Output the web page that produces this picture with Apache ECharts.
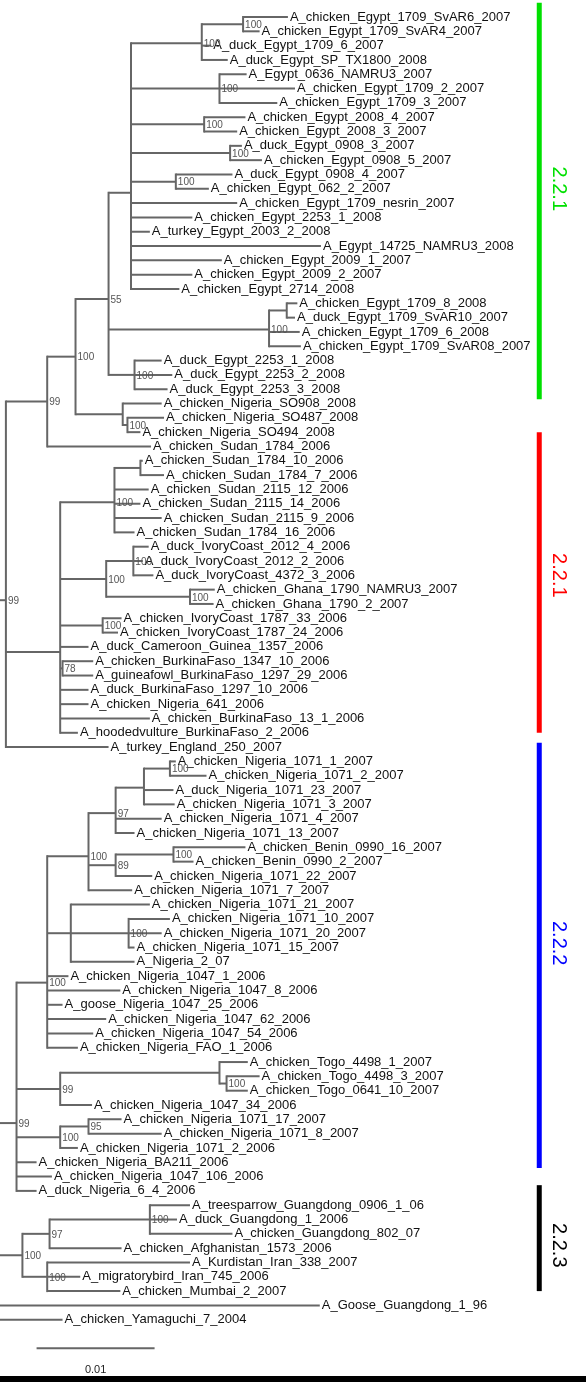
<!DOCTYPE html>
<html><head><meta charset="utf-8">
<script src="https://cdn.jsdelivr.net/npm/echarts@6/dist/echarts.min.js"></script>
<style>
html,body{margin:0;padding:0;background:#fff;overflow:hidden}
#chart{width:586px;height:1382px}
#strip{position:absolute;left:0;top:1376px;width:586px;height:6px;background:#000}
</style>
</head><body><div id="chart"></div><div id="strip"></div>
<script>
// ---------- DATA ----------
const leafNames = [
 'A_chicken_Egypt_1709_SvAR6_2007','A_chicken_Egypt_1709_SvAR4_2007','A_duck_Egypt_1709_6_2007','A_duck_Egypt_SP_TX1800_2008',
 'A_Egypt_0636_NAMRU3_2007','A_chicken_Egypt_1709_2_2007','A_chicken_Egypt_1709_3_2007','A_chicken_Egypt_2008_4_2007',
 'A_chicken_Egypt_2008_3_2007','A_duck_Egypt_0908_3_2007','A_chicken_Egypt_0908_5_2007','A_duck_Egypt_0908_4_2007',
 'A_chicken_Egypt_062_2_2007','A_chicken_Egypt_1709_nesrin_2007','A_chicken_Egypt_2253_1_2008','A_turkey_Egypt_2003_2_2008',
 'A_Egypt_14725_NAMRU3_2008','A_chicken_Egypt_2009_1_2007','A_chicken_Egypt_2009_2_2007','A_chicken_Egypt_2714_2008',
 'A_chicken_Egypt_1709_8_2008','A_duck_Egypt_1709_SvAR10_2007','A_chicken_Egypt_1709_6_2008','A_chicken_Egypt_1709_SvAR08_2007',
 'A_duck_Egypt_2253_1_2008','A_duck_Egypt_2253_2_2008','A_duck_Egypt_2253_3_2008','A_chicken_Nigeria_SO908_2008',
 'A_chicken_Nigeria_SO487_2008','A_chicken_Nigeria_SO494_2008','A_chicken_Sudan_1784_2006','A_chicken_Sudan_1784_10_2006',
 'A_chicken_Sudan_1784_7_2006','A_chicken_Sudan_2115_12_2006','A_chicken_Sudan_2115_14_2006','A_chicken_Sudan_2115_9_2006',
 'A_chicken_Sudan_1784_16_2006','A_duck_IvoryCoast_2012_4_2006','A_duck_IvoryCoast_2012_2_2006','A_duck_IvoryCoast_4372_3_2006',
 'A_chicken_Ghana_1790_NAMRU3_2007','A_chicken_Ghana_1790_2_2007','A_chicken_IvoryCoast_1787_33_2006','A_chicken_IvoryCoast_1787_24_2006',
 'A_duck_Cameroon_Guinea_1357_2006','A_chicken_BurkinaFaso_1347_10_2006','A_guineafowl_BurkinaFaso_1297_29_2006','A_duck_BurkinaFaso_1297_10_2006',
 'A_chicken_Nigeria_641_2006','A_chicken_BurkinaFaso_13_1_2006','A_hoodedvulture_BurkinaFaso_2_2006','A_turkey_England_250_2007',
 'A_chicken_Nigeria_1071_1_2007','A_chicken_Nigeria_1071_2_2007','A_duck_Nigeria_1071_23_2007','A_chicken_Nigeria_1071_3_2007',
 'A_chicken_Nigeria_1071_4_2007','A_chicken_Nigeria_1071_13_2007','A_chicken_Benin_0990_16_2007','A_chicken_Benin_0990_2_2007',
 'A_chicken_Nigeria_1071_22_2007','A_chicken_Nigeria_1071_7_2007','A_chicken_Nigeria_1071_21_2007','A_chicken_Nigeria_1071_10_2007',
 'A_chicken_Nigeria_1071_20_2007','A_chicken_Nigeria_1071_15_2007','A_Nigeria_2_07','A_chicken_Nigeria_1047_1_2006',
 'A_chicken_Nigeria_1047_8_2006','A_goose_Nigeria_1047_25_2006','A_chicken_Nigeria_1047_62_2006','A_chicken_Nigeria_1047_54_2006',
 'A_chicken_Nigeria_FAO_1_2006','A_chicken_Togo_4498_1_2007','A_chicken_Togo_4498_3_2007','A_chicken_Togo_0641_10_2007',
 'A_chicken_Nigeria_1047_34_2006','A_chicken_Nigeria_1071_17_2007','A_chicken_Nigeria_1071_8_2007','A_chicken_Nigeria_1071_2_2006',
 'A_chicken_Nigeria_BA211_2006','A_chicken_Nigeria_1047_106_2006','A_duck_Nigeria_6_4_2006','A_treesparrow_Guangdong_0906_1_06',
 'A_duck_Guangdong_1_2006','A_chicken_Guangdong_802_07','A_chicken_Afghanistan_1573_2006','A_Kurdistan_Iran_338_2007',
 'A_migratorybird_Iran_745_2006','A_chicken_Mumbai_2_2007','A_Goose_Guangdong_1_96','A_chicken_Yamaguchi_7_2004'
];
// tip depth of each leaf (units of 0.001 substitutions/site, measured from the left edge of the drawing)
const leafDepth = [
 24.4, 22.0, 17.9, 19.3, 20.9, 25.0, 23.5, 20.8, 20.1, 20.5,
 22.2, 19.7, 17.7, 20.1, 16.3, 12.7, 27.2, 18.8, 16.3, 15.2,
 25.2, 25.0, 25.4, 25.5, 13.7, 14.6, 14.2, 13.7, 13.9, 11.9,
 12.8, 12.1, 13.9, 12.6, 11.9, 13.7, 11.4, 12.6, 12.1, 13.0,
 18.2, 18.1, 10.3, 10.0, 7.5, 7.9, 7.9, 7.5, 7.5, 12.7,
 6.6, 9.2, 14.9, 17.5, 14.7, 14.8, 13.7, 11.4, 20.8, 16.4,
 12.9, 11.2, 12.7, 14.4, 13.7, 11.4, 11.4, 5.8, 10.2, 5.3,
 9.0, 7.9, 6.6, 21.0, 22.0, 21.0, 7.8, 10.3, 13.7, 6.6,
 3.1, 4.4, 3.1, 16.1, 15.0, 19.7, 10.3, 16.1, 6.8, 10.2,
 27.1, 5.3
];
// internal nodes: [id, depth, bootstrap, children]  (numbers = leaf index, strings = node id)
const treeNodes = [
 ['g1', 20.6, '100', [0, 1]],
 ['g2', 17.1, '100', ['g1', 2, 3]],
 ['g3', 18.6, '100', [4, 5, 6]],
 ['g4', 17.3, '100', [7, 8]],
 ['g5', 19.5, '100', [9, 10]],
 ['g6', 14.9, '100', [11, 12]],
 ['gP', 11.1, '', ['g2', 'g3', 'g4', 'g5', 'g6', 13, 14, 15, 16, 17, 18, 19]],
 ['g7', 24.3, '', [20, 21]],
 ['gN', 22.8, '100', ['g7', 22, 23]],
 ['g8', 11.4, '100', [24, 25, 26]],
 ['gA', 9.2, '55', ['gP', 'gN', 'g8']],
 ['g9', 10.8, '100', [28, 29]],
 ['gC', 10.4, '', [27, 'g9']],
 ['gB', 6.4, '100', ['gA', 'gC']],
 ['gD', 4.0, '99', ['gB', 30]],
 ['gS1', 11.9, '', [31, 32]],
 ['gS', 9.7, '100', ['gS1', 33, 34, 35, 36]],
 ['gG', 11.3, '100', [37, 38, 39]],
 ['gH', 16.1, '100', [40, 41]],
 ['gF', 9.0, '100', ['gG', 'gH']],
 ['gI', 8.7, '100', [42, 43]],
 ['gJ', 5.3, '78', [45, 46]],
 ['gRed', 5.1, '', ['gS', 'gF', 'gI', 44, 'gJ', 47, 48, 49, 50]],
 ['gE', 0.5, '99', ['gD', 'gRed', 51]],
 ['gK1a1', 14.4, '100', [52, 53]],
 ['gK1a', 12.2, '', ['gK1a1', 54, 55]],
 ['gK1', 9.8, '97', ['gK1a', 56, 57]],
 ['gK2a', 14.7, '100', [58, 59]],
 ['gK2', 9.8, '89', ['gK2a', 60]],
 ['gK', 7.5, '100', ['gK1', 'gK2', 61]],
 ['gN1b', 10.9, '100', [63, 64, 65]],
 ['gNb', 6.0, '', [62, 'gN1b', 66]],
 ['gM', 4.0, '100', ['gK', 'gNb', 67, 68, 69, 70, 71, 72]],
 ['gT2', 19.2, '100', [74, 75]],
 ['gT', 18.6, '', [73, 'gT2']],
 ['gL', 5.1, '99', ['gT', 76]],
 ['gQ', 7.5, '95', [77, 78]],
 ['gP2', 5.1, '100', ['gQ', 79]],
 ['gBlue', 1.4, '99', ['gM', 'gL', 'gP2', 80, 81, 82]],
 ['gSp', 12.7, '100', [83, 84, 85]],
 ['gY', 4.2, '97', ['gSp', 86]],
 ['gZ', 4.0, '100', [87, 88, 89]],
 ['gX', 1.9, '100', ['gY', 'gZ']],
 ['gR1', -0.5, '', ['gE', 'gBlue']],
 ['gR2', -1.0, '', ['gR1', 'gX']],
 ['gR3', -1.5, '', ['gR2', 91]],
 ['gRoot', -2.0, '', ['gR3', 90]]
];
const cladeNames = ['2.2.1', '2.2.1', '2.2.2', '2.2.3'];
const cladeFrom = [-1.0, 29.0, 50.7, 81.6];   // leaf-row span of each coloured bar
const cladeTo = [26.7, 50.0, 80.4, 89.0];
const cladeLabelRow = [12.0, 39.0, 64.7, 85.8];
const scaleBarLength = 10;      // = 0.01 substitutions/site
const scaleBarLabel = '0.01';

// ---------- STYLE ----------
const cladeColors = ['#00e000', '#ff0000', '#0000ff', '#000000'];
const branchColor = '#666666';
const FONT = '"Liberation Sans", Arial, sans-serif';

// ---------- LAYOUT FROM TREE ----------
const nodeMap = {};
treeNodes.forEach(n => { nodeMap[n[0]] = { depth: n[1], support: n[2], children: n[3] }; });
function pos(c) {
  if (typeof c === 'number') return [leafDepth[c], c];
  const n = nodeMap[c];
  if (n.y === undefined) {
    const ys = n.children.map(ch => pos(ch)[1]);
    n.y = ys.reduce((a, b) => a + b, 0) / ys.length;
  }
  return [n.depth, n.y];
}
const segments = [];
const supportPts = [];
treeNodes.forEach(n => {
  const p = pos(n[0]);
  const cps = nodeMap[n[0]].children.map(pos);
  const ys = cps.map(c => c[1]);
  segments.push([p[0], Math.min(...ys), p[0], Math.max(...ys)]);
  cps.forEach(c => segments.push([p[0], c[1], c[0], c[1]]));
  if (n[2]) supportPts.push([p[0], p[1], n[2]]);
});
const cladeBars = cladeNames.map((nm, i) => [45.7, cladeFrom[i], 45.7, cladeTo[i]]);
const scaleStart = 3.1, scaleRow = 93.0;

const chart = echarts.init(document.getElementById('chart'), null, { renderer: 'canvas' });
chart.setOption({
  animation: false,
  backgroundColor: '#fff',
  grid: { left: 0, right: 0, top: 17, bottom: 5, containLabel: false },
  xAxis: { type: 'value', min: 0, max: 586 / 11.8, show: false },
  yAxis: { type: 'value', min: 0, max: 95, inverse: true, show: false },
  series: [
    { type: 'custom', name: 'branches', silent: true, clip: false,
      data: segments, encode: { x: [0, 2], y: [1, 3] },
      renderItem: (params, api) => {
        const a = api.coord([api.value(0), api.value(1)]);
        const b = api.coord([api.value(2), api.value(3)]);
        const vert = Math.abs(a[0] - b[0]) < 0.01;
        return { type: 'line', shape: { x1: a[0], y1: a[1] - (vert ? 1 : 0), x2: b[0], y2: b[1] + (vert ? 1 : 0) },
          style: { stroke: branchColor, lineWidth: 2 } };
      } },
    { type: 'custom', name: 'leaves', silent: true, clip: false,
      data: leafNames.map((nm, i) => [leafDepth[i], i]), encode: { x: 0, y: 1 },
      renderItem: (params, api) => {
        const c = api.coord([api.value(0), api.value(1)]);
        return { type: 'text', x: c[0] + 2, y: c[1],
          style: { text: leafNames[params.dataIndex], fill: '#111', font: '13px ' + FONT, align: 'left', verticalAlign: 'middle' } };
      } },
    { type: 'custom', name: 'bootstrap', silent: true, clip: false,
      data: supportPts.map(s => [s[0], s[1]]), encode: { x: 0, y: 1 },
      renderItem: (params, api) => {
        const c = api.coord([api.value(0), api.value(1)]);
        return { type: 'text', x: c[0] + 2, y: c[1] + 1,
          style: { text: supportPts[params.dataIndex][2], fill: '#555', font: '10px ' + FONT, align: 'left', verticalAlign: 'middle' } };
      } },
    { type: 'custom', name: 'clades', silent: true, clip: false,
      data: cladeBars, encode: { x: [0, 2], y: [1, 3] },
      renderItem: (params, api) => {
        const a = api.coord([api.value(0), api.value(1)]);
        const b = api.coord([api.value(2), api.value(3)]);
        return { type: 'line', shape: { x1: a[0], y1: a[1], x2: b[0], y2: b[1] },
          style: { stroke: cladeColors[params.dataIndex], lineWidth: 5 } };
      } },
    { type: 'custom', name: 'cladeLabels', silent: true, clip: false,
      data: cladeLabelRow.map(r => [47.3, r]), encode: { x: 0, y: 1 },
      renderItem: (params, api) => {
        const c = api.coord([api.value(0), api.value(1)]);
        return { type: 'text', x: c[0], y: c[1], rotation: -Math.PI / 2,
          style: { text: cladeNames[params.dataIndex], fill: cladeColors[params.dataIndex], font: '20px ' + FONT, align: 'center', verticalAlign: 'middle' } };
      } },
    { type: 'custom', name: 'scale', silent: true, clip: false,
      data: [[scaleStart, scaleRow, scaleStart + scaleBarLength, scaleRow]], encode: { x: [0, 2], y: [1, 3] },
      renderItem: (params, api) => {
        const a = api.coord([api.value(0), api.value(1)]);
        const b = api.coord([api.value(2), api.value(3)]);
        return { type: 'group', children: [
          { type: 'line', shape: { x1: a[0], y1: a[1], x2: b[0], y2: b[1] }, style: { stroke: branchColor, lineWidth: 2 } },
          { type: 'text', x: (a[0] + b[0]) / 2, y: a[1] + 22,
            style: { text: scaleBarLabel, fill: '#222', font: '11px ' + FONT, align: 'center', verticalAlign: 'middle' } }
        ] };
      } }
  ]
});
</script>
</body></html>
